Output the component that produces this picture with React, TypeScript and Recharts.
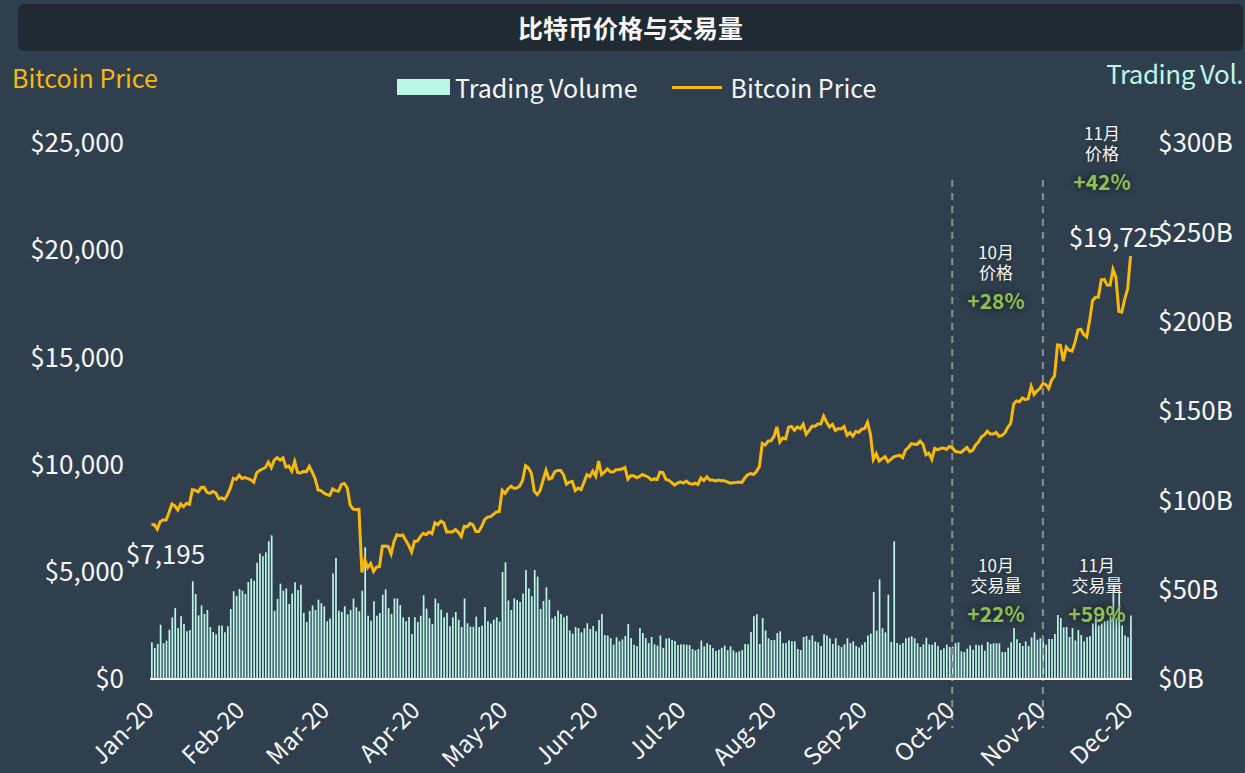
import { ComposedChart, Bar, Line, XAxis, YAxis, ReferenceLine, LabelList } from 'recharts'

const monthLabels = ['Jan-20', 'Feb-20', 'Mar-20', 'Apr-20', 'May-20', 'Jun-20', 'Jul-20', 'Aug-20', 'Sep-20', 'Oct-20', 'Nov-20', 'Dec-20']
// days of data per month (series stops on Dec 1)
const daysShown = [31, 29, 31, 30, 31, 30, 31, 31, 30, 31, 30, 1]

// daily price (USD), one line per month
const bitcoinPrice = [
  7195, 7200, 6985, 7345, 7411, 7411, 7769, 8163, 8079, 7879, 8166, 8037, 8193, 8145, 8828, 8807, 8723, 8930, 8943, 8707, 8658, 8745, 8681, 8406, 8445, 8368, 8597, 8910, 9358, 9316, 9508,
  9351, 9392, 9344, 9293, 9180, 9613, 9729, 9796, 9865, 10116, 9856, 10208, 10326, 10214, 10312, 9889, 9934, 9690, 10141, 9633, 9608, 9686, 9663, 9924, 9650, 9341, 8820, 8784, 8672,
  8599, 8562, 8869, 8787, 8755, 9078, 9122, 8909, 8108, 7923, 7909, 7911, 4970, 5563, 5200, 5392, 5014, 5225, 5238, 6191, 6198, 6185, 5830, 6416, 6734, 6681, 6716, 6469, 6243, 5922, 6429,
  6438, 6641, 6794, 6734, 6857, 6779, 7286, 7197, 7361, 7283, 6858, 6865, 6859, 6971, 6845, 6642, 7117, 7097, 7257, 7189, 6882, 6880, 7117, 7429, 7550, 7570, 7679, 7795, 7807, 8801,
  8658, 8864, 8989, 8897, 8912, 9003, 9268, 9951, 9842, 9593, 8756, 8601, 8804, 9269, 9733, 9328, 9377, 9670, 9726, 9729, 9522, 9081, 9182, 9209, 8790, 8906, 8835, 9181, 9525, 9439, 9700,
  9461, 10167, 9529, 9656, 9800, 9665, 9653, 9758, 9771, 9795, 9870, 9321, 9480, 9475, 9386, 9450, 9538, 9480, 9411, 9288, 9332, 9303, 9648, 9629, 9313, 9264, 9162, 9045, 9143, 9190,
  9137, 9228, 9123, 9087, 9132, 9073, 9375, 9252, 9428, 9277, 9278, 9240, 9276, 9243, 9243, 9192, 9132, 9151, 9159, 9185, 9164, 9374, 9525, 9581, 9536, 9677, 9905, 10990, 10912, 11100, 11111,
  11323, 11759, 11053, 11246, 11205, 11747, 11779, 11601, 11754, 11675, 11878, 11410, 11584, 11784, 11786, 11892, 11895, 12254, 11991, 11758, 11878, 11592, 11681, 11664, 11774, 11366, 11489, 11323, 11542, 11507, 11654,
  11680, 11971, 11414, 10246, 10512, 10169, 10280, 10370, 10131, 10242, 10364, 10400, 10442, 10323, 10680, 10796, 10974, 10949, 10944, 11095, 10938, 10462, 10538, 10246, 10760, 10692, 10750, 10776, 10709, 10845,
  10784, 10620, 10585, 10565, 10680, 10797, 10604, 10669, 10916, 11064, 11296, 11384, 11555, 11426, 11430, 11505, 11323, 11358, 11484, 11742, 11917, 12823, 12966, 12932, 13108, 13031, 13076, 13655, 13272, 13437, 13546,
  13781, 13737, 13550, 13950, 14133, 15580, 15565, 14833, 15479, 15332, 15291, 15701, 16276, 16317, 16068, 15956, 16716, 17645, 17804, 17817, 18621, 18642, 18370, 18364, 19107, 18732, 17150, 17108, 17717, 18177,
  19725,
]

// daily trading volume (billions USD)
const tradingVolume = [
  20.5, 17.4, 19.6, 30.4, 20.1, 21.5, 27.6, 34.5, 39.7, 28.5, 35.1, 30.8, 26.7, 27.4, 54.7, 47.6, 35.6, 41.2, 36.4, 38.6, 29.1, 26.3, 25.0, 30.0, 30.0, 26.1, 29.5, 39.2, 49.1, 46.5, 50.4,
  49.4, 47.6, 54.3, 56.2, 55.0, 65.1, 70.3, 68.7, 70.9, 77.1, 80.4, 38.2, 44.8, 53.4, 49.4, 50.7, 42.0, 47.9, 54.1, 49.8, 52.8, 37.1, 31.9, 38.1, 41.2, 38.6, 44.4, 42.4, 40.7,
  32.3, 33.8, 59.1, 67.7, 38.2, 37.5, 40.7, 36.2, 38.6, 45.0, 40.1, 37.9, 49.4, 73.7, 35.4, 32.6, 43.5, 35.4, 36.9, 47.2, 50.2, 39.7, 36.4, 45.1, 45.0, 41.4, 34.5, 32.3, 34.7, 25.2, 34.5,
  31.9, 35.4, 46.8, 39.4, 34.1, 30.8, 45.0, 42.4, 38.8, 34.5, 37.1, 29.5, 34.5, 37.5, 33.2, 29.1, 45.1, 31.2, 29.3, 29.3, 34.9, 29.1, 30.0, 40.3, 32.3, 31.0, 33.2, 34.5, 32.1, 59.9,
  65.3, 44.0, 38.6, 45.1, 44.2, 43.1, 47.9, 61.0, 50.6, 46.3, 61.0, 57.3, 39.2, 43.7, 51.3, 44.4, 33.8, 35.1, 38.4, 36.4, 34.5, 35.4, 27.2, 25.4, 29.1, 28.5, 26.1, 28.4, 31.2, 28.0, 29.7,
  26.7, 33.0, 36.4, 24.6, 24.3, 22.9, 19.2, 23.3, 21.1, 22.2, 24.1, 30.8, 22.9, 19.2, 18.5, 28.5, 25.7, 22.9, 20.1, 23.5, 19.4, 18.7, 24.4, 17.4, 22.6, 22.9, 21.8, 21.3, 19.0, 19.4,
  19.4, 19.2, 19.0, 16.8, 16.0, 16.8, 21.5, 18.3, 20.0, 19.0, 17.4, 15.7, 16.4, 17.4, 18.7, 16.2, 18.3, 16.0, 14.9, 15.5, 16.2, 19.6, 19.4, 26.3, 35.1, 36.2, 19.6, 34.1, 27.2, 22.8, 21.8,
  21.8, 25.7, 26.7, 20.0, 20.1, 21.6, 21.1, 21.1, 16.8, 16.2, 23.5, 24.1, 22.0, 24.4, 21.1, 20.5, 18.5, 25.0, 24.3, 22.8, 19.6, 22.8, 18.8, 17.9, 19.4, 22.8, 20.1, 21.1, 18.5, 17.7, 19.2,
  20.5, 24.4, 25.4, 48.7, 27.1, 55.8, 28.4, 26.1, 47.2, 20.7, 77.1, 20.1, 19.2, 20.1, 22.8, 23.3, 23.9, 22.8, 20.0, 17.9, 19.4, 23.1, 19.4, 19.2, 20.5, 18.5, 16.2, 17.2, 19.2, 17.9,
  18.1, 20.1, 20.5, 15.5, 15.1, 17.0, 18.8, 16.4, 19.2, 18.8, 19.2, 15.9, 20.7, 19.6, 20.0, 20.0, 20.0, 15.1, 15.1, 17.5, 20.5, 28.5, 22.2, 20.1, 18.5, 21.1, 18.5, 23.3, 26.1, 22.0, 22.8,
  22.4, 19.2, 22.4, 22.4, 25.2, 35.8, 34.1, 28.9, 29.1, 23.5, 28.5, 21.6, 27.4, 24.6, 21.1, 23.3, 23.9, 31.0, 35.1, 30.0, 31.0, 32.3, 32.8, 35.1, 50.0, 34.1, 50.0, 30.0, 24.3, 23.3,
  35.6,
]

const priceTicks = [0, 5000, 10000, 15000, 20000, 25000]
const volumeTicks = [0, 50, 100, 150, 200, 250, 300]
const markerDates = ['2020-10-01', '2020-11-01']

const notes = [
  { x: 1102, y: 133, title: '11月\n价格', pct: '+42%' },
  { x: 996, y: 252, title: '10月\n价格', pct: '+28%' },
  { x: 996, y: 565, title: '10月\n交易量', pct: '+22%' },
  { x: 1097, y: 565, title: '11月\n交易量', pct: '+59%' },
]

const BG = '#2f3f4e'
const TITLE_BG = '#1f2a33'
const ORANGE = '#f8b90c'
const MINT = '#bdf7e8'
const GREEN = '#8cc152'
const TEXT = '#f7f7f7'
const FONT = "'Noto Sans CJK SC', 'Noto Sans', sans-serif"

const pad = (n: number) => String(n).padStart(2, '0')
const dates: string[] = []
daysShown.forEach((n, m) => {
  for (let d = 1; d <= n; d++) dates.push(`2020-${pad(m + 1)}-${pad(d)}`)
})
const monthStarts = daysShown.map((_, m) => `2020-${pad(m + 1)}-01`)
const data = dates.map((date, i) => ({ date, price: bitcoinPrice[i], volume: tradingVolume[i] }))

const MonthTick = (props: any) => {
  const { x, y, payload } = props
  const idx = monthStarts.indexOf(payload.value)
  const tx = x + 4
  const ty = y + 25
  return (
    <text x={tx} y={ty} transform={`rotate(-45 ${tx} ${ty})`} textAnchor="end" fill={TEXT} fontSize={24}>
      {monthLabels[idx]}
    </text>
  )
}

const PriceLabel = (props: any) => {
  const { x, y, index, value } = props
  const last = bitcoinPrice.length - 1
  if (index !== 0 && index !== last) return null
  const first = index === 0
  return (
    <text
      x={x + (first ? 14 : -15)}
      y={y + (first ? 28 : -21)}
      textAnchor="middle"
      dominantBaseline="central"
      fill={TEXT}
      fontSize={26}
    >
      {`$${Number(value).toLocaleString('en-US')}`}
    </text>
  )
}

function Note({ x, y, title, pct }: { x: number; y: number; title: string; pct: string }) {
  return (
    <>
      <div
        style={{
          position: 'absolute', left: x - 60, top: y - 10, width: 120, lineHeight: '20px', whiteSpace: 'pre-line',
          textAlign: 'center', fontSize: 17, color: TEXT, textShadow: '0 0 4px rgba(0,0,0,0.4)',
        }}
      >
        {title}
      </div>
      <div
        style={{
          position: 'absolute', left: x - 60, top: y + 35, width: 120, height: 26, lineHeight: '26px',
          textAlign: 'center', fontSize: 21, color: GREEN, fontWeight: 700, textShadow: '0 0 8px rgba(0,0,0,0.7)',
        }}
      >
        {pct}
      </div>
    </>
  )
}

export default function App() {
  return (
    <div style={{ position: 'absolute', left: 0, top: 0, width: 1245, height: 773, background: BG, fontFamily: FONT, overflow: 'hidden' }}>
      <div
        style={{
          position: 'absolute', left: 18, top: 4, width: 1225, height: 47, background: TITLE_BG, borderRadius: 6,
          color: TEXT, fontSize: 25, fontWeight: 700, textAlign: 'center', lineHeight: '47px',
        }}
      >
        比特币价格与交易量
      </div>
      <div style={{ position: 'absolute', left: 12, top: 59, fontSize: 25, lineHeight: '36px', color: ORANGE }}>Bitcoin Price</div>
      <div style={{ position: 'absolute', right: 2, top: 55, fontSize: 26, lineHeight: '36px', color: MINT, letterSpacing: -0.5 }}>Trading Vol.</div>

      <div style={{ position: 'absolute', left: 397, top: 69, height: 36, display: 'flex', alignItems: 'center', fontSize: 25, color: TEXT }}>
        <span style={{ width: 53, height: 16, background: MINT, display: 'inline-block' }} />
        <span style={{ marginLeft: 5 }}>Trading Volume</span>
        <span style={{ width: 50, height: 3, background: ORANGE, display: 'inline-block', marginLeft: 35 }} />
        <span style={{ marginLeft: 8 }}>Bitcoin Price</span>
      </div>

      <div style={{ position: 'absolute', left: 0, top: 0 }}>
        <ComposedChart width={1245} height={773} data={data} margin={{ top: 143, right: 0, bottom: 0, left: 0 }}>
          <XAxis
            dataKey="date"
            ticks={monthStarts}
            interval={0}
            height={94}
            tickLine={false}
            axisLine={{ stroke: '#ffffff', strokeWidth: 2 }}
            tick={<MonthTick />}
          />
          <YAxis
            yAxisId="left"
            orientation="left"
            width={150}
            domain={[0, 25000]}
            ticks={priceTicks}
            axisLine={false}
            tickLine={false}
            tickMargin={20}
            tick={{ fill: TEXT, fontSize: 26 }}
            tickFormatter={(v: number) => `$${v.toLocaleString('en-US')}`}
          />
          <YAxis
            yAxisId="right"
            orientation="right"
            width={113}
            domain={[0, 300]}
            ticks={volumeTicks}
            axisLine={false}
            tickLine={false}
            tickMargin={20}
            tick={{ fill: TEXT, fontSize: 26 }}
            tickFormatter={(v: number) => `$${v}B`}
          />
          <Bar yAxisId="right" dataKey="volume" fill={MINT} barSize={1.7} isAnimationActive={false} />
          {markerDates.map((d) => (
            <ReferenceLine
              key={d}
              yAxisId="left"
              segment={[{ x: d, y: 23270 }, { x: d, y: -2285 }]}
              ifOverflow="visible"
              stroke="#8a8f94"
              strokeWidth={2}
              strokeDasharray="7 6"
            />
          ))}
          <Line
            yAxisId="left"
            type="linear"
            dataKey="price"
            stroke={ORANGE}
            strokeWidth={3}
            dot={false}
            isAnimationActive={false}
          >
            <LabelList dataKey="price" content={<PriceLabel />} />
          </Line>
        </ComposedChart>
      </div>

      {notes.map((n) => (
        <Note key={n.title} {...n} />
      ))}
    </div>
  )
}
